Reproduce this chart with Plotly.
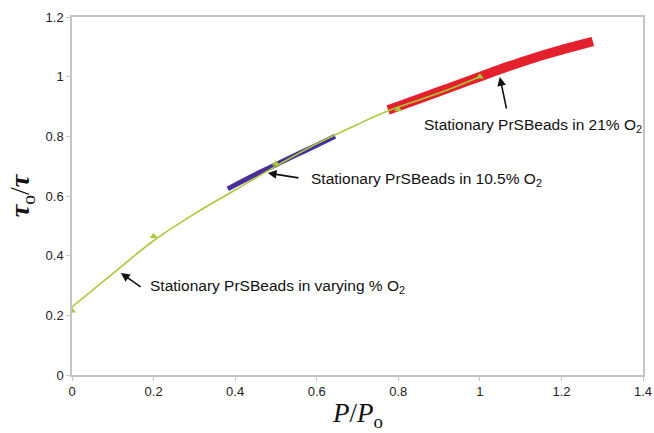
import plotly.graph_objects as go

# Fitted curve (stationary beads, varying % O2)
fit_x = [0.0, 0.1, 0.2, 0.3, 0.4, 0.5, 0.6, 0.7, 0.78, 0.9, 1.0]
fit_y = [0.228, 0.34, 0.45, 0.54, 0.62, 0.70, 0.775, 0.84, 0.888, 0.945, 1.0]

# Measured points (triangles)
pts_x = [0.0, 0.2, 0.5, 0.8, 1.0]
pts_y = [0.215, 0.465, 0.708, 0.89, 1.0]

# 10.5% O2 band
blue_x = [0.382, 0.45, 0.5, 0.55, 0.6, 0.645]
blue_y = [0.624, 0.672, 0.705, 0.738, 0.77, 0.80]

# 21% O2 band
red_x = [0.775, 0.85, 0.9, 0.95, 1.0, 1.05, 1.1, 1.15, 1.2, 1.25, 1.277]
red_y = [0.888, 0.925, 0.95, 0.975, 1.0, 1.025, 1.048, 1.07, 1.09, 1.108, 1.118]

x_ticks = [0, 0.2, 0.4, 0.6, 0.8, 1.0, 1.2, 1.4]
y_ticks = [0, 0.2, 0.4, 0.6, 0.8, 1.0, 1.2]

GREEN = "#A6CB3A"
BLUE = "#4A2E9A"
RED = "#E4202C"

fig = go.Figure()
fig.add_trace(go.Scatter(x=red_x, y=red_y, mode="lines", line_shape="spline",
                         line=dict(color=RED, width=9.5), hoverinfo="skip"))
fig.add_trace(go.Scatter(x=blue_x, y=blue_y, mode="lines", line_shape="spline",
                         line=dict(color=BLUE, width=5), hoverinfo="skip"))
fig.add_trace(go.Scatter(x=fit_x, y=fit_y, mode="lines", line_shape="spline",
                         line=dict(color=GREEN, width=1.6), hoverinfo="skip"))
fig.add_trace(go.Scatter(x=pts_x, y=pts_y, mode="markers",
                         marker=dict(symbol="triangle-up", size=7, color=GREEN),
                         hoverinfo="skip"))

txt_font = dict(family="Liberation Sans, Arial, sans-serif", size=15.5, color="#111111")

labels = [
    ("Stationary PrSBeads in 21% O<sub>2</sub>", 0.858, 0.835),
    ("Stationary PrSBeads in 10.5% O<sub>2</sub>", 0.581, 0.657),
    ("Stationary PrSBeads in varying % O<sub>2</sub>", 0.186, 0.298),
]
for t, x, y in labels:
    fig.add_annotation(x=x, y=y, xref="x", yref="y", text=t, showarrow=False,
                       xanchor="left", yanchor="middle", font=txt_font)

arrows = [
    (1.049, 0.999, 1.066, 0.888),
    (0.480, 0.677, 0.559, 0.660),
    (0.120, 0.342, 0.172, 0.292),
]
for hx, hy, tx, ty in arrows:
    fig.add_annotation(x=hx, y=hy, xref="x", yref="y", ax=tx, ay=ty,
                       axref="x", ayref="y", text="", showarrow=True,
                       arrowhead=2, arrowsize=1.1, arrowwidth=1.6,
                       arrowcolor="#111111")

# x-axis title as an annotation so it stays inside the page
fig.add_annotation(x=0.5, y=-0.06, xref="paper", yref="paper",
                   text="<i>P</i>/<i>P</i><sub>o</sub>", showarrow=False,
                   xanchor="center", yanchor="top",
                   font=dict(family="Liberation Serif, Times New Roman, serif",
                             size=27, color="#111111"))

axis_common = dict(showgrid=False, zeroline=False, showline=True,
                   linecolor="#C4C4C4", linewidth=1.5, mirror=True,
                   ticks="outside", ticklen=4, tickcolor="#C4C4C4",
                   automargin=False,
                   tickfont=dict(family="Liberation Sans, Arial, sans-serif",
                                 size=13, color="#222222"))

fig.update_xaxes(range=[0, 1.4], tickvals=x_ticks, **axis_common)
fig.update_yaxes(range=[0, 1.2], tickvals=y_ticks,
                 title=dict(text="<b><i>τ</i></b><sub>o</sub>/<b><i>τ</i></b>",
                            font=dict(family="Liberation Serif, Times New Roman, serif",
                                      size=28, color="#111111"),
                            standoff=8),
                 **axis_common)

fig.update_layout(width=654, height=433, showlegend=False,
                  plot_bgcolor="white", paper_bgcolor="white",
                  margin=dict(l=72, r=11, t=17, b=58))

fig.write_html("out.html", config={"displayModeBar": False},
               post_script="document.body.style.margin='0';document.body.style.padding='0';")
